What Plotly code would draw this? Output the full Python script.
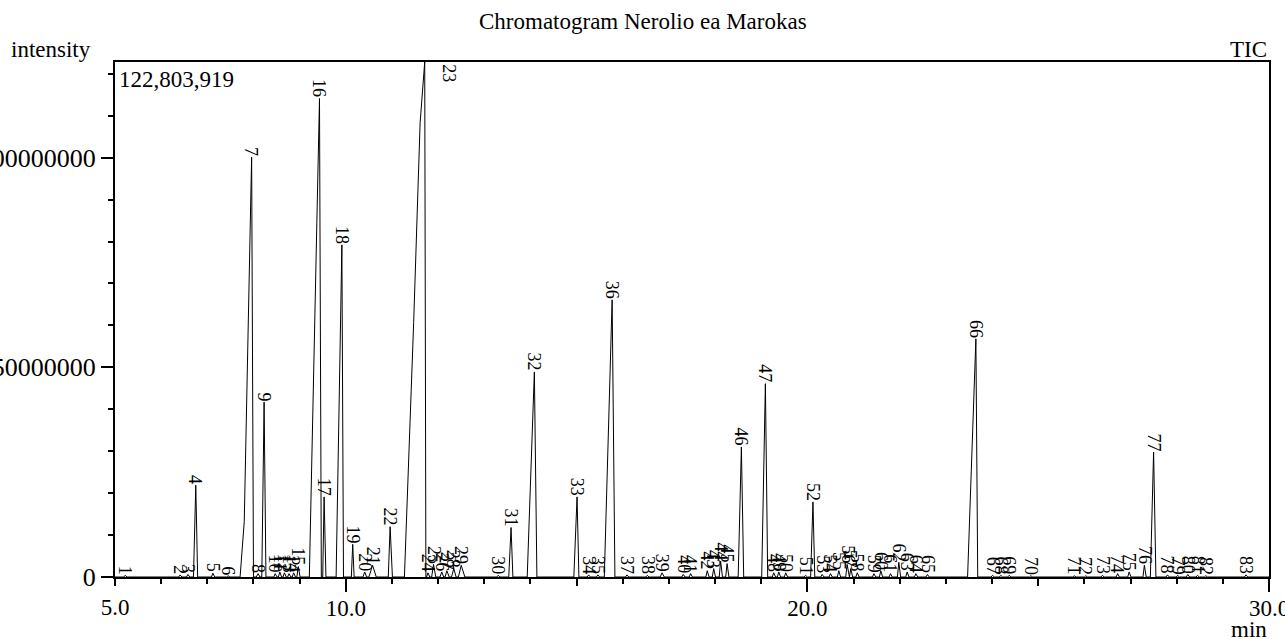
import plotly.graph_objects as go

# ---------------- data ----------------
peak_no = list(range(1, 84))

# apex retention time (min)
rt_apex = [5.22, 6.41, 6.58, 6.75, 7.12, 7.45, 7.96, 8.10, 8.23, 8.47,
           8.57, 8.67, 8.77, 8.87, 8.97, 9.43, 9.53, 9.915, 10.15, 10.41,
           10.58, 10.96, 11.71, 11.78, 11.90, 12.08, 12.19, 12.34, 12.50, 13.30,
           13.58, 14.085, 15.01, 15.26, 15.46, 15.77, 16.09, 16.53, 16.85, 17.31,
           17.47, 17.83, 17.97, 18.12, 18.26, 18.57, 19.09, 19.27, 19.38, 19.53,
           19.96, 20.12, 20.32, 20.50, 20.68, 20.86, 20.94, 21.08, 21.44, 21.59,
           21.80, 21.98, 22.16, 22.35, 22.60, 23.65, 24.01, 24.19, 24.37, 24.84,
           25.78, 26.03, 26.39, 26.72, 26.97, 27.30, 27.50, 27.80, 28.02, 28.24,
           28.45, 28.63, 29.50]

# peak start / end retention time (min)
rt_start = [5.19, 6.38, 6.55, 6.70, 7.09, 7.42, 7.71, 8.06, 8.18, 8.44,
            8.54, 8.64, 8.74, 8.84, 8.94, 9.21, 9.50, 9.79, 10.12, 10.37,
            10.50, 10.92, 11.27, 11.75, 11.86, 12.04, 12.15, 12.29, 12.44, 13.27,
            13.53, 13.93, 14.94, 15.23, 15.43, 15.60, 16.06, 16.50, 16.81, 17.28,
            17.44, 17.80, 17.94, 18.09, 18.23, 18.50, 19.01, 19.24, 19.35, 19.50,
            19.93, 20.07, 20.29, 20.47, 20.65, 20.83, 20.91, 21.05, 21.41, 21.56,
            21.77, 21.95, 22.13, 22.32, 22.57, 23.47, 23.98, 24.16, 24.34, 24.81,
            25.75, 26.00, 26.36, 26.69, 26.94, 27.27, 27.43, 27.77, 27.99, 28.21,
            28.42, 28.60, 29.47]
rt_end = [5.26, 6.45, 6.62, 6.79, 7.16, 7.49, 8.00, 8.14, 8.27, 8.51,
          8.61, 8.71, 8.81, 8.91, 9.01, 9.47, 9.57, 9.95, 10.18, 10.45,
          10.66, 11.01, 11.735, 11.82, 11.95, 12.12, 12.24, 12.39, 12.58, 13.34,
          13.62, 14.14, 15.05, 15.30, 15.50, 15.83, 16.13, 16.57, 16.90, 17.35,
          17.51, 17.87, 18.01, 18.16, 18.30, 18.62, 19.14, 19.31, 19.42, 19.57,
          20.00, 20.16, 20.36, 20.54, 20.72, 20.90, 20.98, 21.12, 21.48, 21.63,
          21.84, 22.02, 22.20, 22.39, 22.64, 23.69, 24.05, 24.23, 24.41, 24.88,
          25.82, 26.07, 26.43, 26.76, 27.01, 27.34, 27.55, 27.84, 28.06, 28.28,
          28.49, 28.67, 29.54]

# apex intensity (counts)
intensity = [0.4e6, 0.5e6, 0.6e6, 21.9e6, 0.9e6, 0.3e6, 100.1e6, 0.8e6, 41.7e6, 0.8e6,
             1.2e6, 1.0e6, 0.8e6, 1.0e6, 2.5e6, 114.1e6, 19.1e6, 79.2e6, 7.8e6, 1.2e6,
             2.8e6, 12.0e6, 122803919, 1.0e6, 3.0e6, 1.2e6, 1.5e6, 2.0e6, 2.8e6, 0.4e6,
             11.8e6, 48.9e6, 19.1e6, 0.5e6, 0.5e6, 66.1e6, 0.5e6, 0.4e6, 1.0e6, 0.6e6,
             0.8e6, 1.5e6, 2.0e6, 3.8e6, 3.2e6, 31.0e6, 46.1e6, 1.0e6, 1.2e6, 1.0e6,
             0.4e6, 17.9e6, 0.6e6, 0.8e6, 1.5e6, 3.0e6, 2.0e6, 1.0e6, 0.8e6, 1.5e6,
             0.8e6, 3.5e6, 1.2e6, 0.8e6, 0.6e6, 56.8e6, 0.4e6, 0.4e6, 0.4e6, 0.3e6,
             0.3e6, 0.3e6, 0.4e6, 0.8e6, 1.2e6, 2.8e6, 29.8e6, 0.5e6, 0.4e6, 0.6e6,
             0.4e6, 0.3e6, 0.5e6]

# extra points on the leading (fronting) edge of overloaded peaks
front_peak = [7, 23, 23, 23]
front_rt = [7.80, 11.40, 11.47, 11.61]
front_int = [13.2e6, 36.9e6, 60.7e6, 108.3e6]

max_intensity = 122803919
x_range = [5.0, 30.0]
x_major = [10.0, 20.0, 30.0]
x_mid = [5.0, 15.0, 25.0]
y_major = [0, 50000000, 100000000]

# ---------------- build the TIC trace from the peak table ----------------
tx, ty = [], []
prev_end = x_range[0]
tx.append(x_range[0]); ty.append(0)
for i, n in enumerate(peak_no):
    s = max(rt_start[i], prev_end)
    tx.append(s); ty.append(0)
    for p, r, v in zip(front_peak, front_rt, front_int):
        if p == n:
            tx.append(r); ty.append(v)
    tx.append(rt_apex[i]); ty.append(intensity[i])
    tx.append(rt_end[i]); ty.append(0)
    prev_end = rt_end[i]
tx.append(x_range[1]); ty.append(0)

FONT = "Liberation Serif, Times New Roman, serif"

fig = go.Figure()
fig.add_trace(go.Scatter(x=tx, y=ty, mode="lines",
                         line=dict(color="black", width=1),
                         hoverinfo="skip", showlegend=False))
# invisible traces so that the overlay tick axes are drawn
for ax in ["x2", "x3"]:
    fig.add_trace(go.Scatter(x=x_range, y=[0, 0], xaxis=ax, mode="markers",
                             marker=dict(opacity=0, size=1),
                             hoverinfo="skip", showlegend=False))

annotations = []
for i, n in enumerate(peak_no):
    if intensity[i] >= max_intensity:
        annotations.append(dict(x=rt_apex[i], y=max_intensity, xref="x", yref="y",
                                text=str(n), showarrow=False, textangle=90,
                                xanchor="center", yanchor="top", xshift=24, yshift=-1,
                                borderpad=0, font=dict(family=FONT, size=18, color="black")))
    else:
        annotations.append(dict(x=rt_apex[i], y=intensity[i], xref="x", yref="y",
                                text=str(n), showarrow=False, textangle=90,
                                xanchor="center", yanchor="bottom",
                                borderpad=0, font=dict(family=FONT, size=18, color="black")))

txtfont = dict(family=FONT, size=23, color="black")
annotations += [
    dict(text="Chromatogram Nerolio ea Marokas", xref="paper", yref="paper",
         x=(642.5 - 115) / 1154, y=1, yshift=26, xanchor="center", yanchor="bottom",
         showarrow=False, font=txtfont),
    dict(text="intensity", xref="paper", yref="paper", x=0, xshift=-106, y=1, yshift=-2,
         xanchor="left", yanchor="bottom", showarrow=False, font=txtfont),
    dict(text="TIC", xref="paper", yref="paper", x=1, y=1, yshift=-2,
         xanchor="right", yanchor="bottom", showarrow=False, font=txtfont),
    dict(text="{:,}".format(max_intensity), xref="paper", yref="paper", x=0, xshift=2,
         y=1, yshift=-3, xanchor="left", yanchor="top", showarrow=False, font=txtfont),
    dict(text="min", xref="paper", yref="paper", x=1, y=0, yshift=-38,
         xanchor="right", yanchor="top", showarrow=False, font=txtfont),
]

fig.update_layout(
    width=1285, height=639,
    margin=dict(l=115, r=16, t=62, b=62),
    paper_bgcolor="white", plot_bgcolor="white",
    showlegend=False,
    annotations=annotations,
    xaxis=dict(range=x_range, tickmode="array", tickvals=x_major,
               ticktext=["{:.1f}".format(v) for v in x_major],
               ticks="outside", ticklen=13, tickwidth=2, tickcolor="black",
               showline=True, linewidth=2, linecolor="black", mirror=True,
               showgrid=False, zeroline=False, automargin=False,
               ticklabelstandoff=-4, ticklabeloverflow="allow",
               tickfont=dict(family=FONT, size=23, color="black")),
    xaxis2=dict(range=x_range, overlaying="x", anchor="y", side="bottom",
                tickmode="array", tickvals=x_mid,
                ticktext=["{:.1f}".format(x_mid[0]), "", ""],
                ticks="outside", ticklen=8, tickwidth=2, tickcolor="black",
                showline=False, showgrid=False, zeroline=False, automargin=False,
                ticklabelstandoff=1, ticklabeloverflow="allow",
                tickfont=dict(family=FONT, size=23, color="black")),
    xaxis3=dict(range=x_range, overlaying="x", anchor="y", side="bottom",
                tickmode="linear", tick0=5, dtick=1, showticklabels=False,
                ticks="outside", ticklen=6, tickwidth=1.5, tickcolor="black",
                showline=False, showgrid=False, zeroline=False, automargin=False),
    yaxis=dict(range=[0, max_intensity], tickmode="array", tickvals=y_major,
               ticktext=[str(v) for v in y_major],
               ticks="outside", ticklen=12, tickwidth=2, tickcolor="black",
               showline=True, linewidth=2, linecolor="black", mirror=True,
               showgrid=False, zeroline=False, automargin=False,
               ticklabeloverflow="allow",
               tickfont=dict(family=FONT, size=26, color="black"),
               minor=dict(tickmode="linear", tick0=0, dtick=10000000, ticks="outside",
                          ticklen=5, tickwidth=2, tickcolor="black", showgrid=False)),
)

fig.write_html("out.html",
               config={"displayModeBar": False},
               post_script="document.body.style.margin='0';"
                           "document.body.style.overflow='hidden';")
